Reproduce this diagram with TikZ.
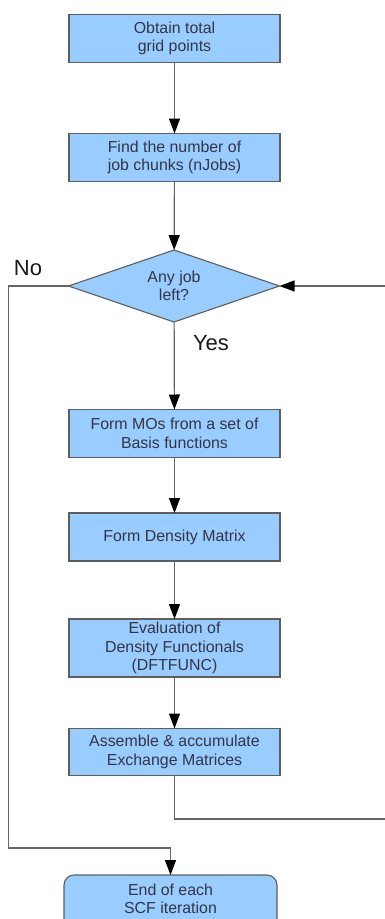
\documentclass[tikz,border=0pt]{standalone}
\usepackage{fontspec}
\setmainfont{Liberation Sans}
\usetikzlibrary{shapes.geometric,arrows.meta}
\definecolor{boxfill}{HTML}{99CCFF}
\definecolor{boxedge}{HTML}{5E5E5E}
\definecolor{boxtext}{HTML}{353545}
\definecolor{wire}{HTML}{666666}
\begin{document}
\begin{tikzpicture}[x=1pt,y=-1pt,
  every node/.style={inner sep=0pt, outer sep=0pt},
  stepfont/.style={font=\fontsize{15.9}{18.4}\selectfont, text=boxtext, align=center},
  procbox/.style={stepfont, draw=boxedge, line width=1.1pt, fill=boxfill,
    minimum width=211pt},
  decision/.style={diamond, draw=boxedge, line width=1.1pt, fill=boxfill, text=boxtext,
    minimum width=211pt, minimum height=72pt, aspect=2.93, align=center,
    font=\fontsize{15.9}{17.4}\selectfont},
  endbox/.style={draw=boxedge, line width=1.1pt, fill=boxfill, rounded corners=10pt,
    minimum width=213pt},
  flow/.style={draw=wire, line width=1.2pt, -{Triangle[length=15pt,width=11pt,color=black]}},
  plain/.style={draw=wire, line width=1.2pt},
  branch/.style={font=\fontsize{22}{24}\selectfont, text=black!90}]
\useasboundingbox (0,0) rectangle (385,919);
\clip (0,0) rectangle (385,919);

% process steps
\node[procbox, minimum height=48pt] (grid) at (174.5,38.3) {Obtain total\\grid points};
\node[procbox, minimum height=48pt] (chunks) at (174.5,157.5) {Find the number of\\job chunks (nJobs)};
\node[decision] (left) at (174,286) {Any job\\left?};
\node[procbox, minimum height=48pt] (mos) at (174.5,433.5) {Form MOs from a set of\\Basis functions};
\node[procbox, minimum height=48pt] (dens) at (174.5,537) {Form Density Matrix};
\node[procbox, minimum height=58pt] (dft) at (174.5,648) {Evaluation of\\Density Functionals\\(DFTFUNC)};
\node[procbox, minimum height=47pt] (asm) at (174.5,752) {Assemble \& accumulate\\Exchange Matrices};

% terminal box, running past the lower edge
\node[endbox, minimum height=62pt, anchor=north] (done) at (170.5,875) {};
\node[stepfont] (donetext) at (170.5,899) {End of each\\SCF iteration};

% branch labels
\node[branch] (nolbl) at (28,268) {No};
\node[branch] (yeslbl) at (211,343) {Yes};

% turning points of the loops
\coordinate (nobend) at (8.5,286);
\coordinate (nofoot) at (8.5,848);
\coordinate (loopfoot) at (174.5,819);
\coordinate (loopcorner) at (385.5,819);
\coordinate (looptop) at (385.5,286);

% main flow
\draw[flow] (grid) -- (chunks);
\draw[flow] (chunks) -- (left);
\draw[flow] (left) -- (mos);
\draw[flow] (mos) -- (dens);
\draw[flow] (dens) -- (dft);
\draw[flow] (dft) -- (asm);

% loop back to the decision
\draw[plain] (asm.south) -- (loopfoot) -- (loopcorner) -- (looptop);
\draw[flow] (looptop) -- (left.east);

% no jobs left: finish the iteration
\draw[flow] (left.west) -- (nobend) -- (nofoot) -| (done.north);
\end{tikzpicture}
\end{document}
